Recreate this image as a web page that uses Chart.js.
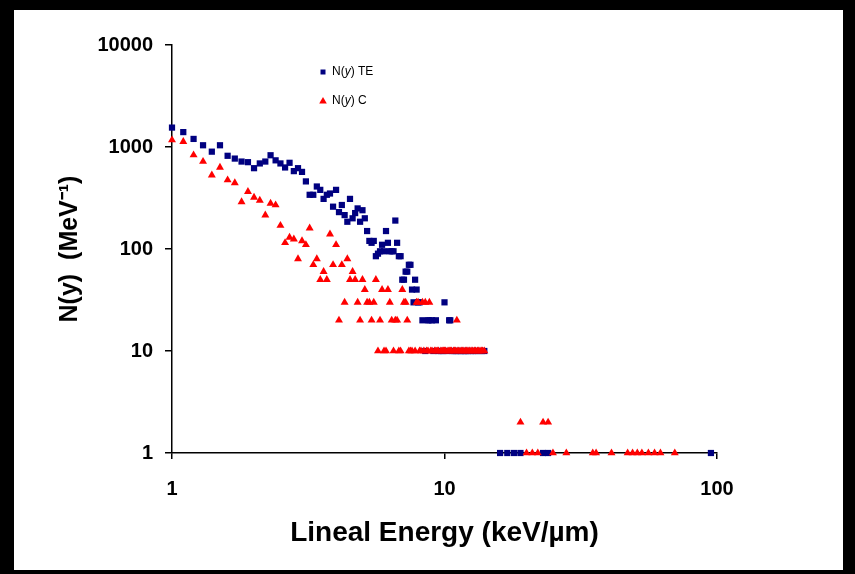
<!DOCTYPE html>
<html>
<head>
<meta charset="utf-8">
<script src="https://cdn.jsdelivr.net/npm/chart.js@4/dist/chart.umd.min.js"></script>
<style>
html, body { margin: 0; padding: 0; background: #000; }
#frame { position: absolute; left: 14px; top: 10px; width: 829px; height: 560px; background: #fff; }
</style>
</head>
<body>
<div id="frame"><canvas id="myChart" width="829" height="560"></canvas></div>
<script>
// lineal energy bins (keV/um), 0.1 wide up to 14
const energy = [
  1.0, 1.1, 1.2, 1.3, 1.4, 1.5, 1.6, 1.7, 1.8, 1.9,
  2.0, 2.1, 2.2, 2.3, 2.4, 2.5, 2.6, 2.7, 2.8, 2.9,
  3.0, 3.1, 3.2, 3.3, 3.4, 3.5, 3.6, 3.7, 3.8, 3.9,
  4.0, 4.1, 4.2, 4.3, 4.4, 4.5, 4.6, 4.7, 4.8, 4.9,
  5.0, 5.1, 5.2, 5.3, 5.4, 5.5, 5.6, 5.7, 5.8, 5.9,
  6.0, 6.1, 6.2, 6.3, 6.4, 6.5, 6.6, 6.7, 6.8, 6.9,
  7.0, 7.1, 7.2, 7.3, 7.4, 7.5, 7.6, 7.7, 7.8, 7.9,
  8.0, 8.1, 8.2, 8.3, 8.4, 8.5, 8.6, 8.7, 8.8, 8.9,
  9.0, 9.1, 9.2, 9.3, 9.4, 9.5, 9.6, 9.7, 9.8, 9.9,
  10.0, 10.1, 10.2, 10.3, 10.4, 10.5, 10.6, 10.7, 10.8, 10.9,
  11.0, 11.1, 11.2, 11.3, 11.4, 11.5, 11.6, 11.7, 11.8, 11.9,
  12.0, 12.1, 12.2, 12.3, 12.4, 12.5, 12.6, 12.7, 12.8, 12.9,
  13.0, 13.1, 13.2, 13.3, 13.4, 13.5, 13.6, 13.7, 13.8, 13.9,
  14.0
]

// N(y) TE
const teMain = [
  1550, 1400, 1200, 1040, 900, 1040, 820, 770, 720, 710,
  620, 690, 720, 830, 740, 690, 630, 700, 580, 620,
  570, 460, 340, 340, 410, 380, 310, 340, 350, 260,
  380, 230, 270, 215, 185, 310, 200, 225, 250, 185,
  240, 200, 150, 120, 115, 120, 85, 90, 95, 110,
  95, 150, 115, 95, 95, 95, 190, 115, 85, 85,
  50, 50, 60, 60, 70, 70, 40, 30, 50, 40,
  30, 30, null, 20, null, 10, null, 20, 20, null,
  20, 10, null, 20, null, 10, null, 10, null, 10,
  30, null, 10, null, 20, 20, null, 10, 10, null,
  10, null, 10, null, 10, 10, null, null, 10, 10,
  10, null, 10, null, null, 10, null, 10, null, null,
  10, null, null, 10, null, null, null, 10, null, null,
  10
]

// N(y) C
const cMain = [
  1170, 1130, 835, 720, 530, 630, 475, 445, 290, 365,
  320, 300, 215, 280, 270, 170, 115, 130, 125, 80,
  120, 110, 160, 70, 80, 50, 60, 50, 140, 70,
  110, 20, 70, 30, 80, 50, 60, 50, 30, 20,
  50, 40, 30, 30, 20, 30, 50, 10, 20, 40,
  10, 10, 40, 30, 20, 10, 20, 20, 10, 10,
  40, 30, 30, 20, 10, 10, 10, null, 10, 30,
  30, 10, 10, 30, 10, 30, 10, 10, 30, 10,
  10, null, 10, 10, 10, 10, null, 10, 10, 10,
  10, 10, null, 10, 10, 10, 10, null, 10, 10,
  10, 20, 10, 10, null, 10, 10, 10, null, 10,
  10, 10, null, 10, 10, null, 10, 10, null, 10,
  10, null, 10, 10, null, 10, null, 10, 10, null,
  10
]

// sparse tail above 15 keV/um
const tailEnergy = [16, 17, 18, 19, 20, 21, 22, 23, 24, 25, 28, 35, 36, 41, 47, 49, 51, 53, 56, 59, 62, 70, 95]
const teTail = [1, 1, 1, 1, null, null, null, 1, 1, null, null, null, null, null, null, null, null, null, null, null, null, null, 1]
const cTail = [null, null, null, 2, 1, 1, 1, 2, 2, 1, 1, 1, 1, 1, 1, 1, 1, 1, 1, 1, 1, 1, null]

const xTicks = [1, 10, 100]
const yTicks = [1, 10, 100, 1000, 10000]

const FONT = "'Liberation Sans', Arial, sans-serif"
const NAVY = '#000080'
const RED = '#ff0000'

const toPoints = (xs, ys) => xs.map((x, i) => ({x: x, y: ys[i]})).filter(p => p.y !== null)

// legend sits inside the plot, like the excel one
const insideLegend = {
  id: 'insideLegend',
  afterDatasetsDraw(chart) {
    const {ctx, chartArea} = chart
    const mx = chartArea.left + 151
    const rows = [
      {y: chartArea.top + 27, style: 'rect', color: NAVY, tail: ') TE'},
      {y: chartArea.top + 56, style: 'triangle', color: RED, tail: ') C'}
    ]
    ctx.save()
    rows.forEach(r => {
      ctx.fillStyle = r.color
      ctx.beginPath()
      if (r.style === 'rect') {
        ctx.rect(mx - 2.5, r.y - 2.5, 5, 5)
      } else {
        ctx.moveTo(mx, r.y - 4)
        ctx.lineTo(mx + 3.8, r.y + 2.5)
        ctx.lineTo(mx - 3.8, r.y + 2.5)
        ctx.closePath()
      }
      ctx.fill()
      ctx.fillStyle = '#000'
      ctx.textBaseline = 'middle'
      let tx = mx + 9
      ctx.font = '12px ' + FONT
      ctx.fillText('N(', tx, r.y)
      tx += ctx.measureText('N(').width
      ctx.font = 'italic 12px ' + FONT
      ctx.fillText('y', tx, r.y)
      tx += ctx.measureText('y').width
      ctx.font = '12px ' + FONT
      ctx.fillText(r.tail, tx, r.y)
    })
    ctx.restore()
  }
}

const ctx = document.getElementById('myChart').getContext('2d')

const myChart = new Chart(ctx, {
  type: 'scatter',
  data: {
    datasets: [{
      label: 'N(y) TE',
      data: toPoints(energy, teMain).concat(toPoints(tailEnergy, teTail)),
      pointStyle: 'rect',
      pointRadius: 4.4,
      backgroundColor: NAVY,
      borderColor: NAVY,
      borderWidth: 0,
      clip: false,
      order: 1
    }, {
      label: 'N(y) C',
      data: toPoints(energy, cMain).concat(toPoints(tailEnergy, cTail)),
      pointStyle: 'triangle',
      pointRadius: 4.6,
      backgroundColor: RED,
      borderColor: RED,
      borderWidth: 0,
      clip: false,
      order: 0
    }]
  },
  options: {
    responsive: false,
    animation: false,
    events: [],
    layout: {padding: {top: 35, right: 126, left: 0, bottom: 0}},
    plugins: {legend: {display: false}, tooltip: {enabled: false}},
    scales: {
      x: {
        type: 'logarithmic',
        min: 1,
        max: 100,
        afterBuildTicks: s => { s.ticks = xTicks.map(v => ({value: v})) },
        afterFit: s => { s.height = 117 },
        ticks: {
          color: '#000',
          font: {family: FONT, weight: 'bold', size: 20},
          padding: 18,
          maxRotation: 0,
          autoSkip: false,
          callback: v => String(v)
        },
        grid: {drawOnChartArea: false, color: '#000', tickLength: 6, lineWidth: 1.5},
        border: {color: '#000', width: 1.5},
        title: {
          display: true,
          text: 'Lineal Energy (keV/\u00b5m)',
          color: '#000',
          font: {family: FONT, weight: 'bold', size: 28},
          padding: {top: 0, bottom: 20}
        }
      },
      y: {
        type: 'logarithmic',
        min: 1,
        max: 10000,
        afterBuildTicks: s => { s.ticks = yTicks.map(v => ({value: v})) },
        afterFit: s => { s.width = 158 },
        ticks: {
          color: '#000',
          font: {family: FONT, weight: 'bold', size: 20},
          padding: 12,
          autoSkip: false,
          callback: v => String(v)
        },
        grid: {drawOnChartArea: false, color: '#000', tickLength: 7, lineWidth: 1.5},
        border: {color: '#000', width: 1.5},
        title: {
          display: true,
          text: 'N(y)  (MeV\u207b\u00b9)',
          color: '#000',
          font: {family: FONT, weight: 'bold', size: 25},
          padding: {top: 41, bottom: 0}
        }
      }
    }
  },
  plugins: [insideLegend]
})
</script>
</body>
</html>
